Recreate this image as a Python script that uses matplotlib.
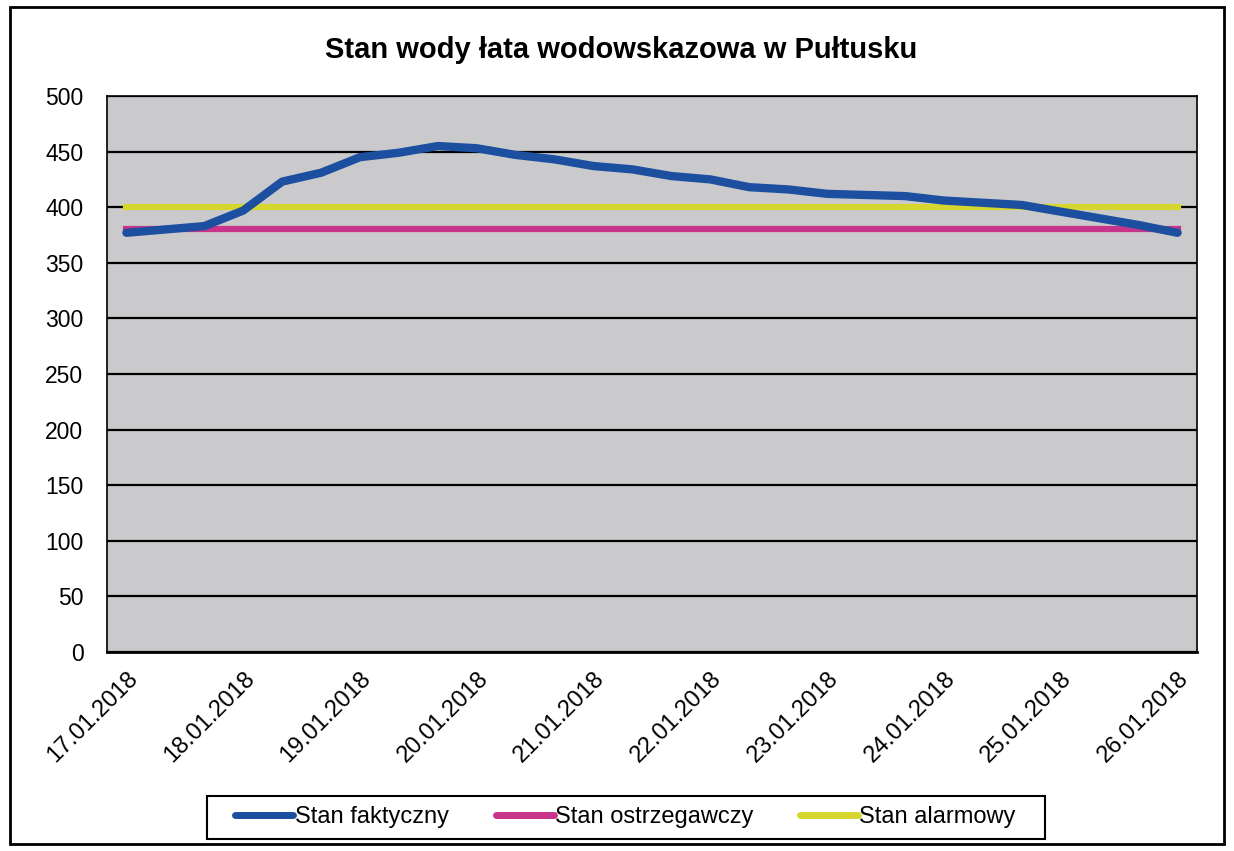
import matplotlib.pyplot as plt
from matplotlib.patches import Rectangle

# water level readings, 3 per day, from 17.01 to 26.01
stan_faktyczny = [377, 380, 383, 397, 423, 431, 445, 449, 455, 453,
                  447, 443, 437, 434, 428, 425, 418, 416, 412, 411,
                  410, 406, 404, 402, 396, 390, 384, 377]
stan_ostrzegawczy = [380] * len(stan_faktyczny)
stan_alarmowy = [400] * len(stan_faktyczny)
dates = ['17.01.2018', '18.01.2018', '19.01.2018', '20.01.2018', '21.01.2018',
         '22.01.2018', '23.01.2018', '24.01.2018', '25.01.2018', '26.01.2018']

plt.rcParams['font.family'] = ['Liberation Sans', 'DejaVu Sans']

fig = plt.figure(figsize=(12.34, 8.51), dpi=100)
ax = fig.add_axes([0.0867, 0.2338, 0.8833, 0.6534])
ax.set_facecolor('#cacacd')

x = list(range(len(stan_faktyczny)))
ax.plot(x, stan_faktyczny, color='#1c4f9f', lw=6, solid_capstyle='round', label='Stan faktyczny', zorder=3)
ax.plot(x, stan_ostrzegawczy, color='#c8348a', lw=4.5, label='Stan ostrzegawczy', zorder=2)
ax.plot(x, stan_alarmowy, color='#d6d62e', lw=4.5, label='Stan alarmowy', zorder=2)

ax.set_xlim(-0.5, len(x) - 0.5)
ax.set_ylim(0, 500)
ax.set_yticks(range(0, 501, 50))
ax.yaxis.grid(True, color='black', lw=1.6)
ax.set_axisbelow(True)
ax.tick_params(axis='y', labelsize=16.5, length=0, pad=17)

# one label every third reading
ax.set_xticks(x[::3])
ax.set_xticklabels(dates, rotation=45, ha='right', va='top', rotation_mode='anchor', fontsize=17)
ax.tick_params(axis='x', length=0, pad=11)

for s in ax.spines.values():
    s.set_color('black')
    s.set_linewidth(1.2)
ax.spines['bottom'].set_linewidth(2)

fig.text(0.503, 0.941, 'Stan wody łata wodowskazowa w Pułtusku', ha='center', va='center',
         fontsize=21, fontweight='bold')

leg = fig.legend(loc='center', bbox_to_anchor=(0.507, 0.0394), ncol=3, fontsize=17,
                 frameon=False, handlelength=2.45, handletextpad=0.05, columnspacing=2.0)
for h in leg.legend_handles:
    h.set_solid_capstyle('round')
    h.set_linewidth(5)

# legend box and outer chart border
fig.patches.append(Rectangle((207 / 1234, 1 - 839 / 851), 838 / 1234, 43 / 851,
                             transform=fig.transFigure, fill=False, edgecolor='black', lw=1.5))
fig.patches.append(Rectangle((0.008, 0.008), 0.984, 0.984, transform=fig.transFigure,
                             fill=False, edgecolor='black', lw=2))

plt.savefig('out.png', dpi=100)
